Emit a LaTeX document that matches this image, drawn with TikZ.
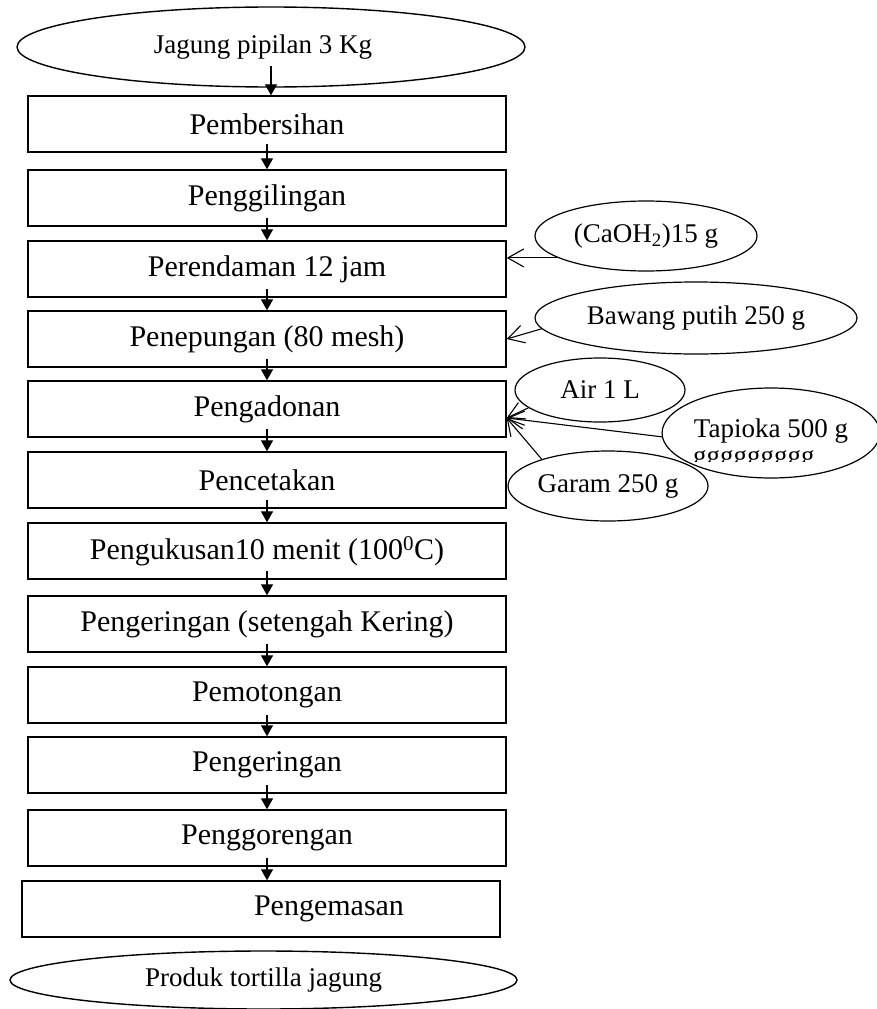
\documentclass[tikz,border=0pt]{standalone}
\usepackage{fontspec}
\setmainfont{Liberation Serif}
\usetikzlibrary{shapes.geometric,arrows.meta}
\newcommand\fbig{\fontsize{30pt}{36pt}\selectfont}
\newcommand\fsml{\fontsize{27pt}{32pt}\selectfont}
\tikzset{
  proc/.style={draw, line width=1.4pt, minimum width=478pt, minimum height=56pt, inner sep=0pt, font=\fbig},
  term/.style={draw, ellipse, line width=1.4pt, inner sep=0pt},
  ing/.style={draw, ellipse, line width=1.2pt, inner sep=0pt, font=\fsml},
  flow/.style={line width=1.3pt, -{Triangle[length=11pt,width=12pt]}},
  side/.style={line width=1.1pt, -{Straight Barb[length=16pt,width=18pt,line width=1.1pt]}}
}
\begin{document}
\begin{tikzpicture}[x=1pt,y=-1pt]
\useasboundingbox (0,0) rectangle (876,1009);
% terminals
\node[term, minimum width=508pt, minimum height=80pt, font=\fsml] (start) at (271,47) {\hspace*{-16pt}Jagung pipilan 3 Kg};
\node[term, minimum width=507pt, minimum height=58pt, font=\fsml] (end) at (263.5,980) {Produk tortilla jagung};
% process boxes
\node[proc] (p1) at (267,124) {Pembersihan};
\node[proc] (p2) at (267,198) {Penggilingan};
\node[proc] (p3) at (267,269) {Perendaman 12 jam};
\node[proc] (p4) at (267,339) {Penepungan (80 mesh)};
\node[proc] (p5) at (267,409) {Pengadonan};
\node[proc] (p6) at (267,480) {Pencetakan};
\node[proc] (p7) at (267,551) {Pengukusan10 menit (100\textsuperscript{0}C)};
\node[proc] (p8) at (267,624) {Pengeringan (setengah Kering)};
\node[proc] (p9) at (267,695) {Pemotongan};
\node[proc] (p10) at (267,765) {Pengeringan};
\node[proc] (p11) at (267,838) {Penggorengan};
\node[proc] (p12) at (261,909) {\hspace*{136pt}Pengemasan};
% flow arrows
\draw[flow] ([yshift=22pt]start.south) -- (start.south |- p1.north);
\foreach \a/\b in {p1/p2,p2/p3,p3/p4,p4/p5,p5/p6,p6/p7,p7/p8,p8/p9,p9/p10,p10/p11,p11/p12}
  \draw[flow] ([yshift=9pt]\a.south) -- (\a.south |- \b.north);
% ingredients
\node[ing, minimum width=222pt, minimum height=70pt] (ca) at (646,236) {(CaOH\textsubscript{2})15 g};
\node[ing, minimum width=322pt, minimum height=72pt] (bw) at (696,318) {Bawang putih 250 g};
\node[ing, minimum width=170pt, minimum height=64pt] (air) at (600,390) {Air 1 L};
\node[ing, minimum width=212pt, minimum height=90pt] (tp) at (771,433) {\raisebox{9pt}{Tapioka 500 g}};
\node[ing, minimum width=200pt, minimum height=70pt] (gr) at (608,486) {Garam 250 g};
\begin{scope}
  \clip (650,440) rectangle (880,461);
  \node[anchor=base west, inner sep=0pt, font=\fsml] (gg) at (693,464) {ggggggggg};
\end{scope}
% side arrows
\coordinate (m) at ([yshift=-9pt]p5.east);
\draw[side] (ca.194) -- (ca.194 -| p3.east);
\draw[side] (bw.184) -- (p4.east);
\draw[side] (air.194) -- (m);
\draw[side] (tp.182) -- (m);
\draw[side] (gr.158) -- (m);
\end{tikzpicture}
\end{document}
